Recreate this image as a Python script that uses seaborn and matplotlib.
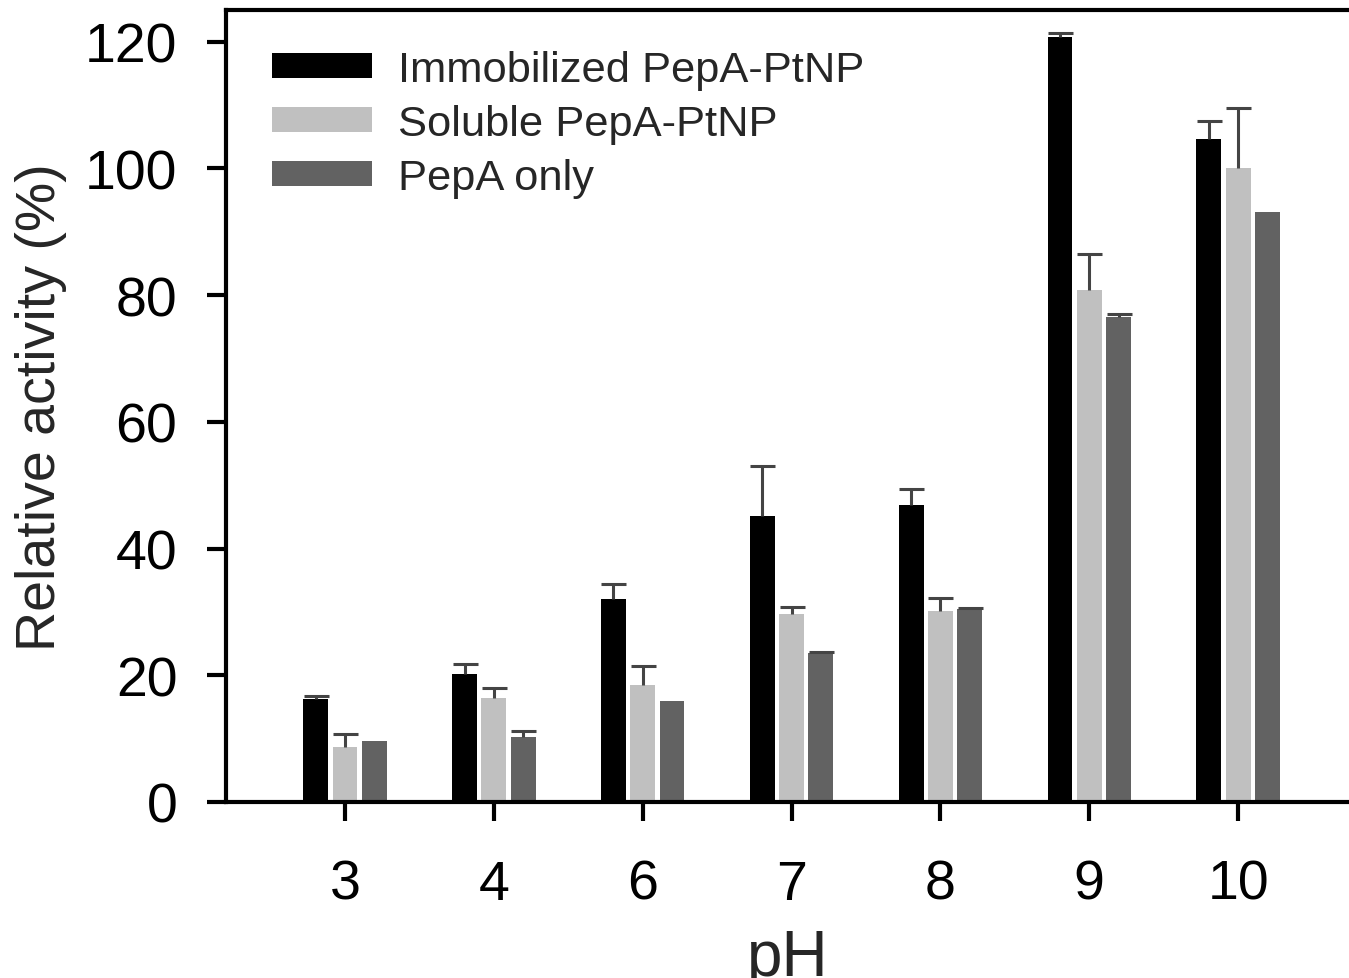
import pandas as pd
import seaborn as sns
import matplotlib.pyplot as plt

ph_labels = ['3', '4', '6', '7', '8', '9', '10']
series = ['Immobilized PepA-PtNP', 'Soluble PepA-PtNP', 'PepA only']

immobilized = [16.2, 20.2, 32.0, 45.2, 46.9, 120.7, 104.6]
immobilized_err = [0.6, 1.6, 2.4, 7.9, 2.5, 0.7, 2.9]
soluble = [8.6, 16.4, 18.4, 29.7, 30.1, 80.8, 100.1]
soluble_err = [2.2, 1.6, 3.0, 1.0, 2.1, 5.7, 9.4]
pepa_only = [9.7, 10.2, 16.0, 23.5, 30.4, 76.5, 93.1]
pepa_only_err = [0.0, 1.0, 0.0, 0.2, 0.2, 0.5, 0.0]

colors = ['#000000', '#c0c0c0', '#626262']

df = pd.DataFrame({
    'pH': ph_labels * 3,
    'activity': immobilized + soluble + pepa_only,
    'sample': [s for s in series for _ in ph_labels],
})

sns.set_style('ticks')
plt.rcParams['font.family'] = ['Liberation Sans', 'DejaVu Sans']

fig = plt.figure(figsize=(13.49, 9.79), dpi=100)
ax = fig.add_axes([0.1675, 0.1798, 0.8325, 0.809])

sns.barplot(data=df, x='pH', y='activity', hue='sample', hue_order=series,
            order=ph_labels, palette=colors, saturation=1, width=0.59, gap=0.15,
            linewidth=0, errorbar=None, ax=ax)

# upper error bars only, placed on the bars seaborn drew
for container, errs in zip(ax.containers, [immobilized_err, soluble_err, pepa_only_err]):
    for bar, e in zip(container, errs):
        if e <= 0:
            continue
        x = bar.get_x() + bar.get_width() / 2
        y = bar.get_height()
        _, caps, _ = ax.errorbar([x], [y], yerr=[[0], [e]], fmt='none', ecolor='#444444',
                                 elinewidth=2.2, capsize=9, capthick=2.2, zorder=1)
        caps[0].set_visible(False)

ax.set_xlim(-0.8, 6.745)
ax.set_ylim(0, 125)
ax.set_yticks([0, 20, 40, 60, 80, 100, 120])

for side in ['left', 'bottom', 'top']:
    ax.spines[side].set_linewidth(3)
    ax.spines[side].set_color('black')
ax.spines['right'].set_visible(False)

ax.tick_params(axis='both', direction='out', length=14, width=3, color='black',
               labelsize=40, labelcolor='black')
ax.tick_params(axis='y', pad=21)
ax.tick_params(axis='x', pad=27)

ax.set_xlabel('pH', fontsize=46)
ax.xaxis.label.set_va('baseline')
ax.xaxis.set_label_coords(0.5, -0.2185)
ax.set_ylabel('Relative activity (%)', fontsize=40)
ax.yaxis.set_label_coords(-0.1416, 0.5)

handles, labels = ax.get_legend_handles_labels()
ax.legend(handles, labels, loc='upper left', bbox_to_anchor=(0.041, 0.95),
          frameon=False, fontsize=31.3, handlelength=2.3, handleheight=0.5,
          handletextpad=0.6, labelspacing=0.33, borderaxespad=0, borderpad=0)

fig.savefig('out.png', dpi=100)
